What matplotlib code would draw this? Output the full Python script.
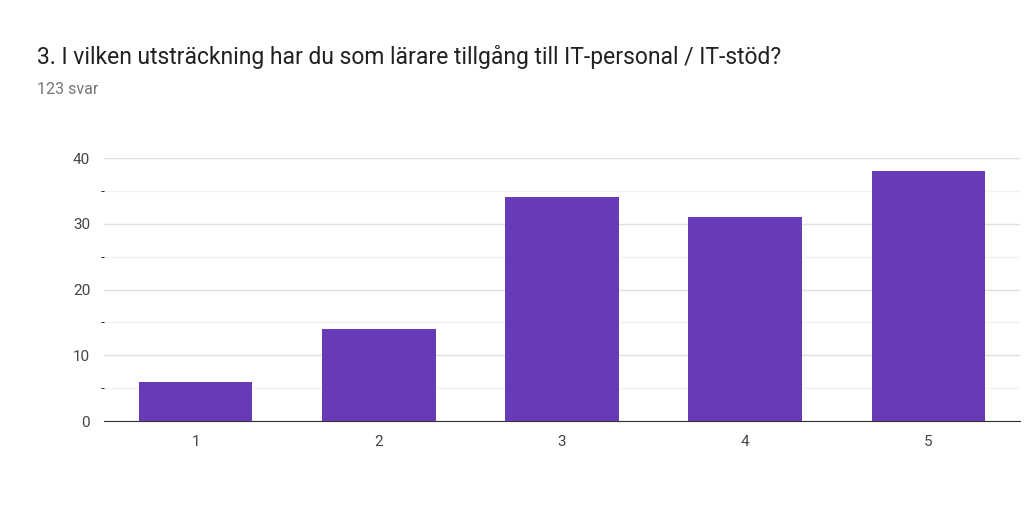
import matplotlib
matplotlib.use("Agg")
import matplotlib.pyplot as plt

categories = ["1", "2", "3", "4", "5"]
values = [6, 14, 34, 31, 38]
title = "3. I vilken utsträckning har du som lärare tillgång till IT-personal / IT-stöd?"
subtitle = "123 svar"

plt.rcParams['font.family'] = ['Roboto', 'DejaVu Sans']
fig = plt.figure(figsize=(10.24, 5.32), dpi=100)
ax = fig.add_axes([0.1016, 0.2086, 0.8945, 0.4944])
x = list(range(len(categories)))
ax.bar(x, values, width=0.62, color="#673ab7", zorder=3)
ax.set_xlim(-0.5, 4.5)
ax.set_ylim(0, 40)
ax.set_yticks([0, 10, 20, 30, 40])
ax.set_yticks([5, 15, 25, 35], minor=True)
ax.set_xticks(x)
ax.set_xticklabels(categories)
ax.grid(axis='y', which='major', color='#e0e0e0', lw=1, zorder=0)
ax.grid(axis='y', which='minor', color='#f2f2f2', lw=1, zorder=0)
for s in ['top', 'right', 'left']:
    ax.spines[s].set_visible(False)
ax.spines['bottom'].set_color('#333333')
ax.tick_params(axis='both', length=0, labelsize=11, colors='#444444', pad=10)
fig.text(37/1024, 1-57/532, title, fontsize=16.5, color='#202124', va='center')
fig.text(37/1024, 1-90/532, subtitle, fontsize=11.5, color='#757575', va='center')
fig.savefig("out.png", dpi=100)
